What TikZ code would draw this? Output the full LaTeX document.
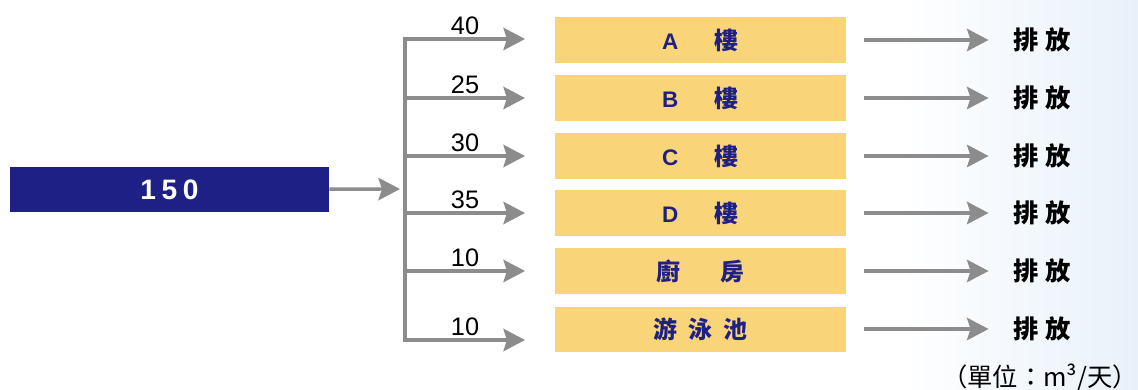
\documentclass[tikz,border=0pt]{standalone}
\usepackage{fontspec}
\setmainfont{Liberation Sans}
\newfontfamily\cjk{Noto Sans CJK TC}
\usetikzlibrary{arrows.meta}
\definecolor{navy}{RGB}{31,32,133}
\definecolor{boxyellow}{RGB}{250,212,120}
\definecolor{linegray}{RGB}{140,140,140}
\definecolor{hazeblue}{RGB}{232,241,250}
\newcommand{\blk}[1]{{\fontsize{16}{18}\selectfont\rmfamily\bfseries #1}}

\begin{document}
\begin{tikzpicture}[x=0.025cm,y=-0.025cm,
    flow/.style={draw=linegray,line width=0.85mm,-{Stealth[length=5.4mm,width=5.6mm,inset=0.9mm]}},
    srcbox/.style={fill=navy,text=white,minimum width=7.975cm,minimum height=1.125cm,inner sep=0pt,font=\fontsize{20}{24}\selectfont\bfseries},
    roombox/.style={fill=boxyellow,text=navy,minimum width=7.275cm,minimum height=1.125cm,inner sep=0pt,font=\fontsize{17}{20}\selectfont\cjk\bfseries},
    qty/.style={above,text=black,inner sep=2pt,font=\fontsize{18}{20}\selectfont},
    outlet/.style={text=black,font=\fontsize{18}{20}\selectfont\cjk\bfseries}]
		\useasboundingbox (0,0) rectangle (1138,389);
		\shade[left color=white,right color=hazeblue] (900,0) rectangle (1138,389);

		\node[srcbox] (src) at (169.5,189.5) {1\hspace{4pt}5\hspace{4pt}0};
		\coordinate (j) at (400,189);
		\draw[flow] (src) -- (j);

		\foreach \r/\by/\ly/\amt/\room in {
			1/40/39/40/{\blk{A}\hspace{26pt}樓},
			2/98/98/25/{\blk{B}\hspace{26pt}樓},
			3/156/156/30/{\blk{C}\hspace{26pt}樓},
			4/213/213/35/{\blk{D}\hspace{26pt}樓},
			5/271/271/10/{廚\hspace{28pt}房},
			6/329/340/10/{游\hspace{8pt}泳\hspace{8pt}池}}{
			\node[roombox] (b\r) at (700.5,\by) {\room};
			\node[outlet] (o\r) at (1042,\by) {排\hspace{0.25em}放};
			\coordinate (t\r) at (405,\ly);
			\coordinate (e\r) at (525,\ly);
			\draw[flow] (t\r) -- (e\r) node[qty,midway] {\amt};
			\draw[flow,shorten <=0.45cm,shorten >=0.5cm] (b\r) -- (o\r);
		}
		\draw[linegray,line width=0.85mm,line cap=rect] (t1) -- (t6);

		\node[font=\fontsize{18}{20}\selectfont\cjk] (unit) at (1040,377) {（單位：m³/天）};
	\end{tikzpicture}
\end{document}
